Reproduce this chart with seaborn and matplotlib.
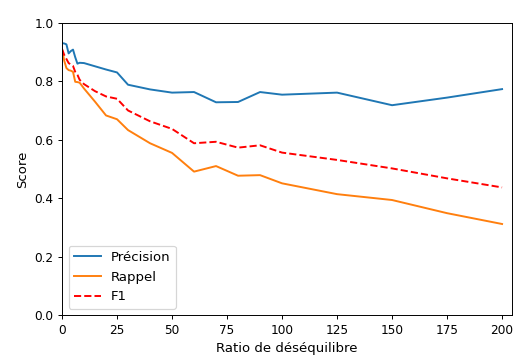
import matplotlib
matplotlib.use("Agg")
import matplotlib.pyplot as plt
import seaborn as sns
import pandas as pd

# Imbalance ratios tested and the resulting scores
ratios = [0, 1, 2, 3, 4, 5, 6, 7, 8, 10, 15, 20, 25, 30, 40, 50, 60, 70, 80, 90, 100, 125, 150, 175, 200]
precision = [0.930, 0.929, 0.926, 0.895, 0.903, 0.908, 0.882, 0.860, 0.863, 0.862, 0.851, 0.840, 0.830,
             0.788, 0.772, 0.761, 0.763, 0.728, 0.729, 0.763, 0.754, 0.761, 0.718, 0.744, 0.773]
rappel = [0.910, 0.870, 0.845, 0.838, 0.836, 0.832, 0.798, 0.797, 0.795, 0.775, 0.730, 0.683, 0.670,
          0.633, 0.588, 0.555, 0.491, 0.510, 0.477, 0.479, 0.451, 0.414, 0.394, 0.349, 0.312]
f1 = [0.910, 0.890, 0.876, 0.862, 0.857, 0.852, 0.832, 0.822, 0.805, 0.790, 0.766, 0.748, 0.740,
      0.700, 0.663, 0.637, 0.588, 0.593, 0.573, 0.581, 0.556, 0.531, 0.502, 0.468, 0.437]

df = pd.DataFrame({"ratio": ratios, "Précision": precision, "Rappel": rappel, "F1": f1})

DPI = 87
fig, ax = plt.subplots(figsize=(516 / DPI, 358 / DPI), dpi=DPI)
fig.subplots_adjust(left=0.1202, right=0.9922, top=0.9366, bottom=0.1193)

sns.lineplot(data=df, x="ratio", y="Précision", label="Précision", color="#1f77b4", linewidth=1.6, ax=ax)
sns.lineplot(data=df, x="ratio", y="Rappel", label="Rappel", color="#ff7f0e", linewidth=1.6, ax=ax)
sns.lineplot(data=df, x="ratio", y="F1", label="F1", color="red", linestyle="--", linewidth=1.6, ax=ax)

ax.set_xlim(0, 204.5)
ax.set_ylim(0, 1)
ax.set_xticks(range(0, 201, 25))
ax.set_yticks([0.0, 0.2, 0.4, 0.6, 0.8, 1.0])
ax.tick_params(labelsize=10)
ax.set_xlabel("Ratio de déséquilibre", fontsize=11)
ax.set_ylabel("Score", fontsize=11)
ax.legend(loc="lower left", fontsize=11)

fig.savefig("out.png", dpi=DPI)
